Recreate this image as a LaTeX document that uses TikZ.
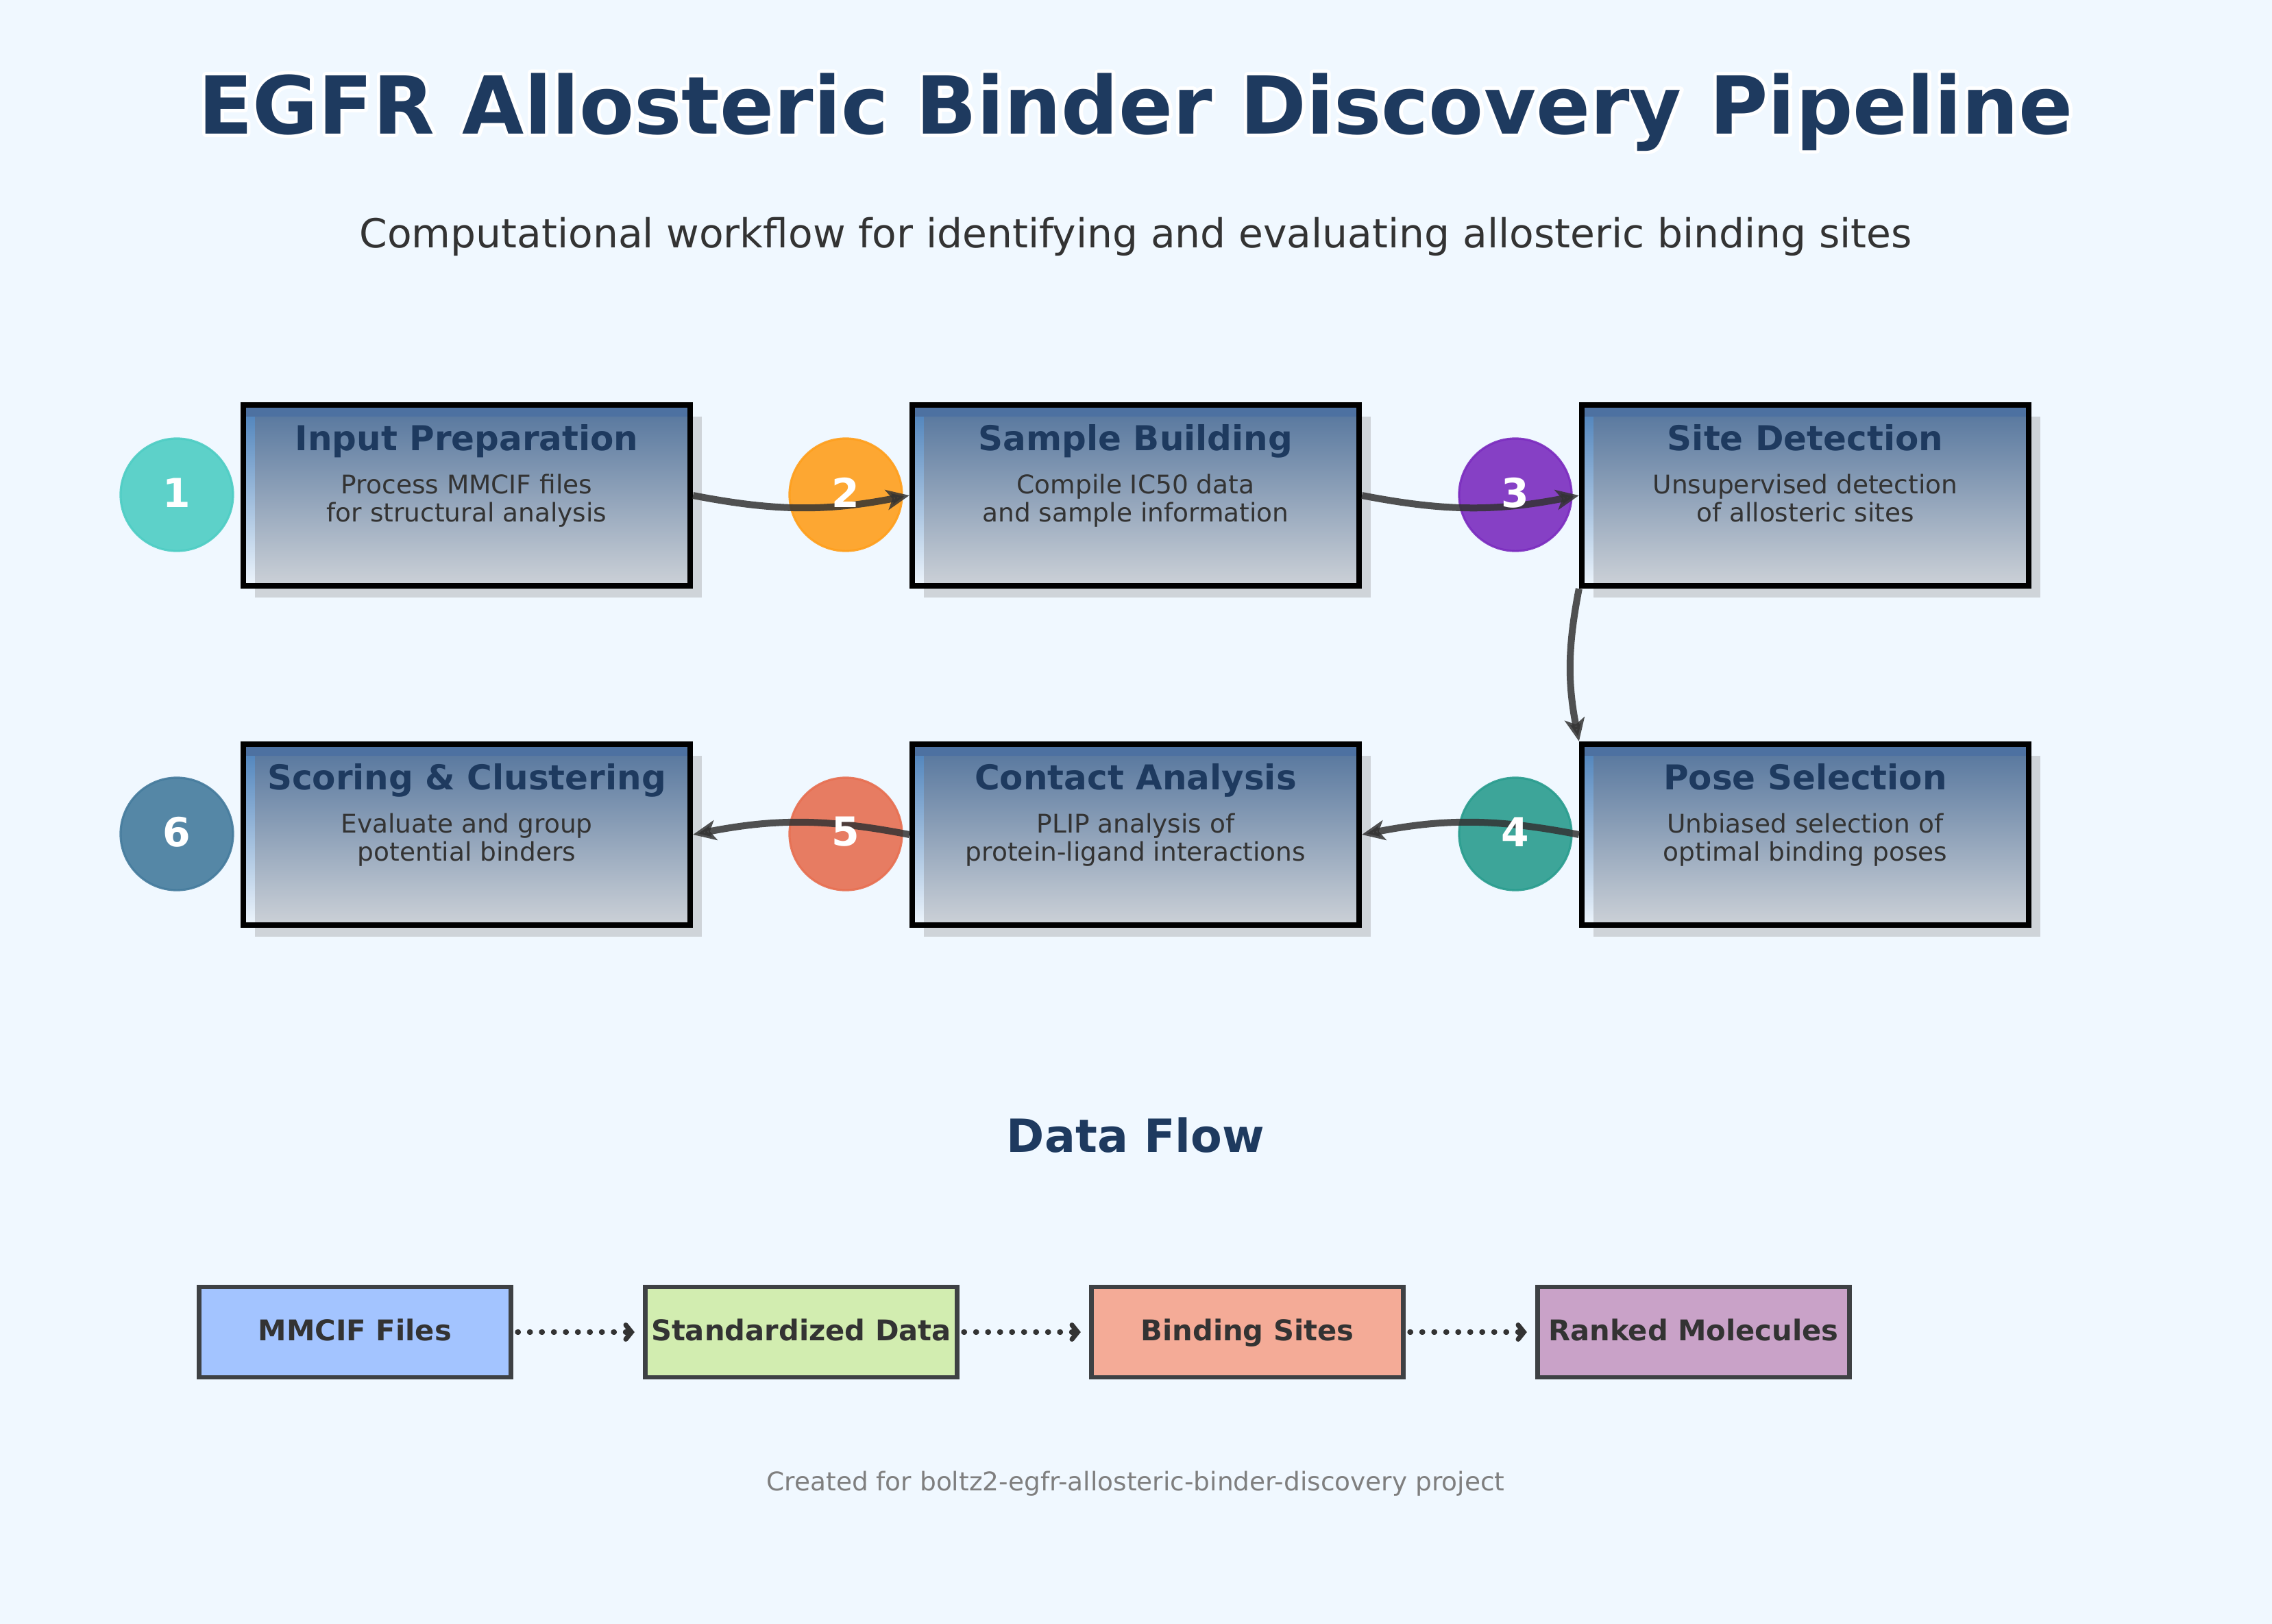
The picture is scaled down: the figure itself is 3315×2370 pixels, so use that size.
\documentclass[tikz,border=0pt]{standalone}
\usepackage{fontspec}
\setmainfont{DejaVu Sans}
\usetikzlibrary{arrows.meta,calc}

% palette
\definecolor{pagebg}{HTML}{F0F8FF}
\definecolor{navy}{HTML}{1E3A5F}
\definecolor{textdark}{HTML}{333333}
\definecolor{footgray}{HTML}{7F7F7F}
\definecolor{cardshadow}{HTML}{CFD4D9}
\definecolor{cardband}{HTML}{4D71A1}
\definecolor{baseTop}{HTML}{4A80BA}
\definecolor{baseMid}{HTML}{8EC0E0}
\definecolor{baseBot}{HTML}{EEF5FC}
\definecolor{veilTop}{HTML}{5B7AA0}
\definecolor{veilMid}{HTML}{8CACC1}
\definecolor{veilBot}{HTML}{CCD1D7}
\definecolor{stepA}{HTML}{4ECDC4}
\definecolor{stepB}{HTML}{FF9F1C}
\definecolor{stepC}{HTML}{7B2CBF}
\definecolor{stepD}{HTML}{2A9D8F}
\definecolor{stepE}{HTML}{E76F51}
\definecolor{stepF}{HTML}{457B9D}
\definecolor{edgegray}{HTML}{3E4144}
\definecolor{dataA}{HTML}{A3C4FF}
\definecolor{dataB}{HTML}{D2EDB0}
\definecolor{dataC}{HTML}{F4AB97}
\definecolor{dataD}{HTML}{C9A2C8}

% text with a white stroked halo underneath (PDF text render mode 1)
\newcommand{\halotext}[1]{%
  \rlap{\textcolor{white}{\special{pdf:code 1 Tr 2.4 w 1 j}#1\special{pdf:code 0 Tr}}}#1}

\tikzset{
  titletext/.style={anchor=base, inner sep=0, text=navy, font=\fontsize{28}{34}\selectfont\bfseries},
  cardframe/.style={draw=black, line width=2pt, minimum width=156.48pt, minimum height=63.36pt, inner sep=0},
  cardtitle/.style={anchor=base, inner sep=0, text=navy, font=\fontsize{12}{14}\selectfont\bfseries},
  carddesc/.style={anchor=base, inner sep=0, text=textdark, font=\fontsize{9}{11}\selectfont},
  numdot/.style={circle, minimum size=39.4pt, inner sep=0, line width=0.75pt, fill opacity=0.9, draw opacity=0.9},
  numtext/.style={inner sep=0, text=white, font=\fontsize{14}{16}\selectfont\bfseries},
  flow/.style={draw=textdark, opacity=0.85, line width=2.4pt,
    -{Stealth[length=8pt,width=7pt,inset=2pt]}},
  datanode/.style={minimum width=109.2pt, minimum height=31.68pt, inner sep=0, draw=edgegray,
    line width=1.5pt, text=textdark, font=\fontsize{10}{12}\selectfont\bfseries,
    text height=7.8pt, text depth=2pt},
  dotflow/.style={draw=textdark, line width=1.7pt, line cap=round, dash pattern=on 0.4pt off 3.8pt,
    -{Straight Barb[length=2pt,width=5pt,line cap=round]}, shorten <=1.5pt, shorten >=3pt},
}

% one pipeline card: name, centre x, centre y, heading, two description lines
\newcommand{\pipecard}[6]{%
  \begin{scope}[shift={(#2,#3)}]
    \fill[cardshadow] (-309,-115) rectangle (343,149);
    \shade[top color=baseTop, middle color=baseMid, bottom color=baseBot] (-326,-132) rectangle (326,132);
    \fill[cardband] (-326,-132) rectangle (326,-115);
    \shade[top color=veilTop, middle color=veilMid, bottom color=veilBot] (-309,-115) rectangle (326,132);
    \node[cardframe] (#1) at (0,0) {};
    \node[cardtitle] at (0,-66) {#4};
    \node[carddesc] at (0,-3) {#5};
    \node[carddesc] at (0,38) {#6};
  \end{scope}}

\begin{document}
\begin{tikzpicture}[x=0.24pt, y=-0.24pt]
  \fill[pagebg] (0,0) rectangle (3315,2370);
  \useasboundingbox (0,0) rectangle (3315,2370);

  % heading and subheading
  \node[titletext] (title) at (1657,195) {\halotext{EGFR Allosteric Binder Discovery Pipeline}};
  \node[anchor=base, inner sep=0, text=textdark, font=\fontsize{14}{17}\selectfont] (subtitle) at (1657,361)
    {Computational workflow for identifying and evaluating allosteric binding sites};

  % pipeline cards
  \pipecard{c1}{681}{723}{Input Preparation}{Process MMCIF files}{for structural analysis}
  \pipecard{c2}{1657}{723}{Sample Building}{Compile IC50 data}{and sample information}
  \pipecard{c3}{2634}{723}{Site Detection}{Unsupervised detection}{of allosteric sites}
  \pipecard{c4}{2634}{1218}{Pose Selection}{Unbiased selection of}{optimal binding poses}
  \pipecard{c5}{1657}{1218}{Contact Analysis}{PLIP analysis of}{protein-ligand interactions}
  \pipecard{c6}{681}{1218}{Scoring \& Clustering}{Evaluate and group}{potential binders}

  % step badges
  \node[numdot, fill=stepA, draw=stepA] (n1) at (258,722) {};
  \node[numdot, fill=stepB, draw=stepB] (n2) at (1234,722) {};
  \node[numdot, fill=stepC, draw=stepC] (n3) at (2211,722) {};
  \node[numdot, fill=stepD, draw=stepD] (n4) at (2211,1217) {};
  \node[numdot, fill=stepE, draw=stepE] (n5) at (1234,1217) {};
  \node[numdot, fill=stepF, draw=stepF] (n6) at (258,1217) {};

  % stage-to-stage connectors
  \draw[flow] (c1.east) to[bend right=11] (c2.west);
  \draw[flow] (c2.east) to[bend right=11] (c3.west);
  \draw[flow] (c3.south west) to[bend right=11] (c4.north west);
  \draw[flow] (c4.west) to[bend right=11] (c5.east);
  \draw[flow] (c5.west) to[bend right=11] (c6.east);

  % badge numbers
  \node[numtext] at ($(n1)+(0,-3)$) {1};
  \node[numtext] at ($(n2)+(0,-3)$) {2};
  \node[numtext] at ($(n3)+(0,-3)$) {3};
  \node[numtext] at ($(n4)+(0,-3)$) {4};
  \node[numtext] at ($(n5)+(0,-3)$) {5};
  \node[numtext] at ($(n6)+(0,-3)$) {6};

  % data flow strip
  \node[anchor=base, inner sep=0, text=navy, font=\fontsize{16}{19}\selectfont\bfseries] (dfhead) at (1657,1681) {Data Flow};
  \node[datanode, fill=dataA] (d1) at (518,1944) {MMCIF Files};
  \node[datanode, fill=dataB] (d2) at (1169,1944) {Standardized Data};
  \node[datanode, fill=dataC] (d3) at (1820,1944) {Binding Sites};
  \node[datanode, fill=dataD] (d4) at (2471,1944) {Ranked Molecules};
  \draw[dotflow] (d1.east) -- (d2.west);
  \draw[dotflow] (d2.east) -- (d3.west);
  \draw[dotflow] (d3.east) -- (d4.west);

  \node[anchor=base, inner sep=0, text=footgray, font=\fontsize{9}{11}\selectfont] (footer) at (1657,2175)
    {Created for boltz2-egfr-allosteric-binder-discovery project};
\end{tikzpicture}
\end{document}
